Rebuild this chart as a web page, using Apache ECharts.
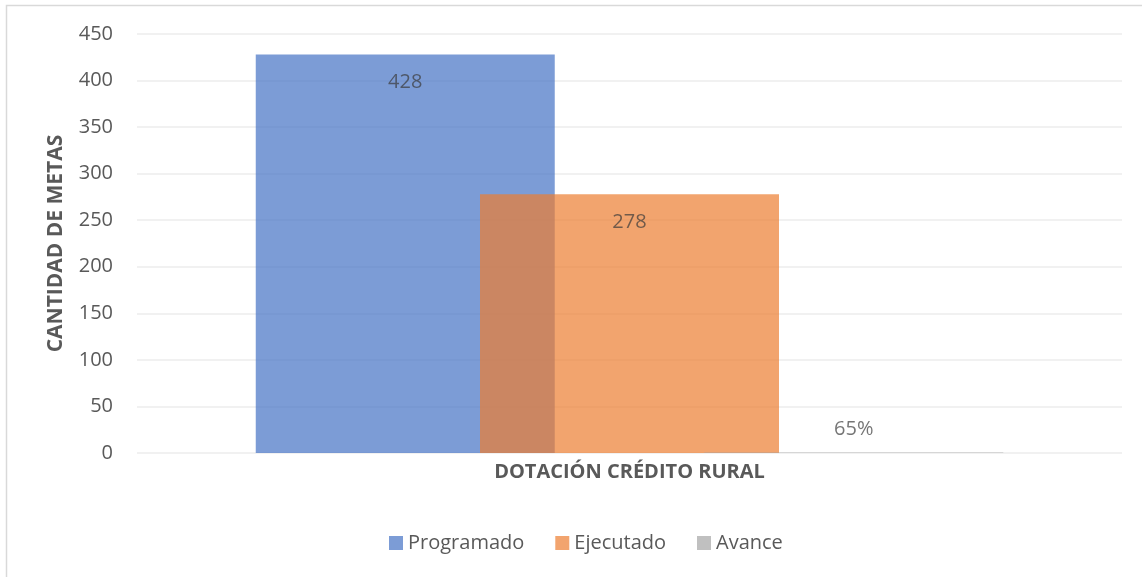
<!DOCTYPE html>
<html>
<head>
<meta charset="utf-8">
<script src="https://cdn.jsdelivr.net/npm/echarts@6/dist/echarts.min.js"></script>
<style>
  html, body { margin: 0; padding: 0; background: #fff; }
  #chart { width: 1142px; height: 577px; }
</style>
</head>
<body>
<div id="chart"></div>
<script>
// data
var categories = ["DOTACIÓN CRÉDITO RURAL"];
var programado = [428];
var ejecutado = [278];
var avance = [0.65];

var font = "Open Sans";
var chart = echarts.init(document.getElementById("chart"));

chart.setOption({
  animation: false,
  backgroundColor: "#fff",
  textStyle: { fontFamily: font },
  graphic: [{
    type: "rect",
    shape: { x: 6.5, y: 5.5, width: 1140, height: 600 },
    style: { fill: null, stroke: "#d9d9d9", lineWidth: 1.5 },
    silent: true
  }],
  grid: { left: 137, right: 20, top: 34, bottom: 124 },
  legend: {
    bottom: 19,
    left: 384,
    itemWidth: 14,
    itemHeight: 14,
    itemGap: 31,
    icon: "rect",
    textStyle: { fontFamily: font, fontSize: 20, color: "#595959" },
    data: ["Programado", "Ejecutado", "Avance"]
  },
  xAxis: {
    type: "category",
    data: categories,
    axisLine: { show: false },
    axisTick: { show: false },
    axisLabel: { fontFamily: font, fontSize: 20, fontWeight: "bold", color: "#595959", margin: 9 }
  },
  yAxis: {
    type: "value",
    min: 0,
    max: 450,
    interval: 50,
    name: "CANTIDAD DE METAS",
    nameLocation: "middle",
    nameRotate: 90,
    nameGap: 70,
    nameTextStyle: { fontFamily: font, fontSize: 21, fontWeight: "bold", color: "#595959" },
    axisLine: { show: false },
    axisTick: { show: false },
    axisLabel: { fontFamily: font, fontSize: 20, color: "#595959", margin: 24 },
    splitLine: { lineStyle: { color: "#ececec", width: 1.5 } }
  },
  series: [
    {
      name: "Programado",
      type: "bar",
      data: programado,
      barWidth: 299,
      barGap: "-25%",
      itemStyle: { color: "#4472C4", opacity: 0.7 },
      label: { show: true, position: "insideTop", distance: 18, fontSize: 20, color: "#3a3a3a", fontFamily: font }
    },
    {
      name: "Ejecutado",
      type: "bar",
      data: ejecutado,
      barWidth: 299,
      barGap: "-25%",
      itemStyle: { color: "#ED7D31", opacity: 0.7 },
      label: { show: true, position: "insideTop", distance: 18, fontSize: 20, color: "#3a3a3a", fontFamily: font }
    },
    {
      name: "Avance",
      type: "bar",
      data: avance,
      barWidth: 299,
      barGap: "-25%",
      itemStyle: { color: "#A5A5A5", opacity: 0.7 },
      label: {
        show: true, position: "top", distance: 13, fontSize: 20, color: "#3a3a3a", fontFamily: font,
        formatter: function (p) { return Math.round(p.value * 100) + "%"; }
      }
    }
  ]
});
</script>
</body>
</html>
